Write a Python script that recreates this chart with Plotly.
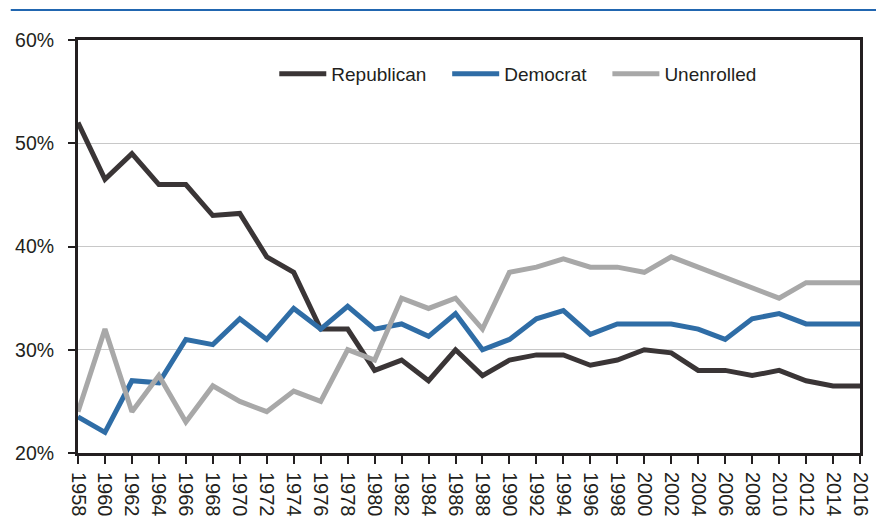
import plotly.graph_objects as go

years = list(range(1958, 2017, 2))
year_labels = [str(y) for y in years]

republican = [52, 46.5, 49, 46, 46, 43, 43.2, 39, 37.5, 32, 32, 28, 29, 27, 30,
              27.5, 29, 29.5, 29.5, 28.5, 29, 30, 29.7, 28, 28, 27.5, 28, 27, 26.5, 26.5]
democrat = [23.5, 22, 27, 26.8, 31, 30.5, 33, 31, 34, 32, 34.2, 32, 32.5, 31.3, 33.5,
            30, 31, 33, 33.8, 31.5, 32.5, 32.5, 32.5, 32, 31, 33, 33.5, 32.5, 32.5, 32.5]
unenrolled = [24, 32, 24, 27.5, 23, 26.5, 25, 24, 26, 25, 30, 29, 35, 34, 35,
              32, 37.5, 38, 38.8, 38, 38, 37.5, 39, 38, 37, 36, 35, 36.5, 36.5, 36.5]

y_ticks = [20, 30, 40, 50, 60]
y_labels = ["20%", "30%", "40%", "50%", "60%"]

series = [("Republican", republican, "#3a3536"),
          ("Democrat", democrat, "#2f6da6"),
          ("Unenrolled", unenrolled, "#a8a8a8")]

PAD = "\u00a0\u00a0\u00a0"

fig = go.Figure()
for i, (name, vals, col) in enumerate(series):
    label = name + (PAD if i < len(series) - 1 else "")
    fig.add_trace(go.Scatter(x=years, y=vals, name=label, mode="lines",
                             line=dict(color=col, width=5)))

family = "Liberation Sans, Arial, sans-serif"
ink = "#231f20"

fig.update_layout(
    width=876, height=519,
    margin=dict(l=78, r=16, t=40, b=66, autoexpand=False),
    plot_bgcolor="white", paper_bgcolor="white",
    font=dict(family=family, size=19, color=ink),
    showlegend=True,
    legend=dict(orientation="h", x=0.251, y=0.918, xanchor="left", yanchor="middle",
                bgcolor="rgba(0,0,0,0)", font=dict(family=family, size=19, color=ink),
                itemwidth=47, tracegroupgap=0),
    xaxis=dict(range=[1958, 2016], tickmode="array", tickvals=years, ticktext=year_labels,
               tickangle=90, showgrid=False, zeroline=False, automargin=False,
               tickfont=dict(family=family, size=20, color=ink),
               showline=True, linecolor=ink, linewidth=3, mirror=True,
               ticks="outside", ticklen=8, tickwidth=1.5, tickcolor=ink,
               ticklabelstandoff=4),
    yaxis=dict(range=[20, 60], tickmode="array", tickvals=y_ticks, ticktext=y_labels,
               showgrid=True, gridcolor="#c8c8c8", gridwidth=1, zeroline=False,
               automargin=False,
               tickfont=dict(family=family, size=19.5, color=ink),
               showline=True, linecolor=ink, linewidth=3, mirror=True,
               ticks="outside", ticklen=7, tickwidth=1.5, tickcolor=ink,
               ticklabelstandoff=10),
)

fig.add_shape(type="line", xref="paper", yref="paper",
              x0=-0.086, x1=1.03, y0=1.0726, y1=1.0726,
              line=dict(color="#2166b0", width=2))

fig.write_html("out.html")
